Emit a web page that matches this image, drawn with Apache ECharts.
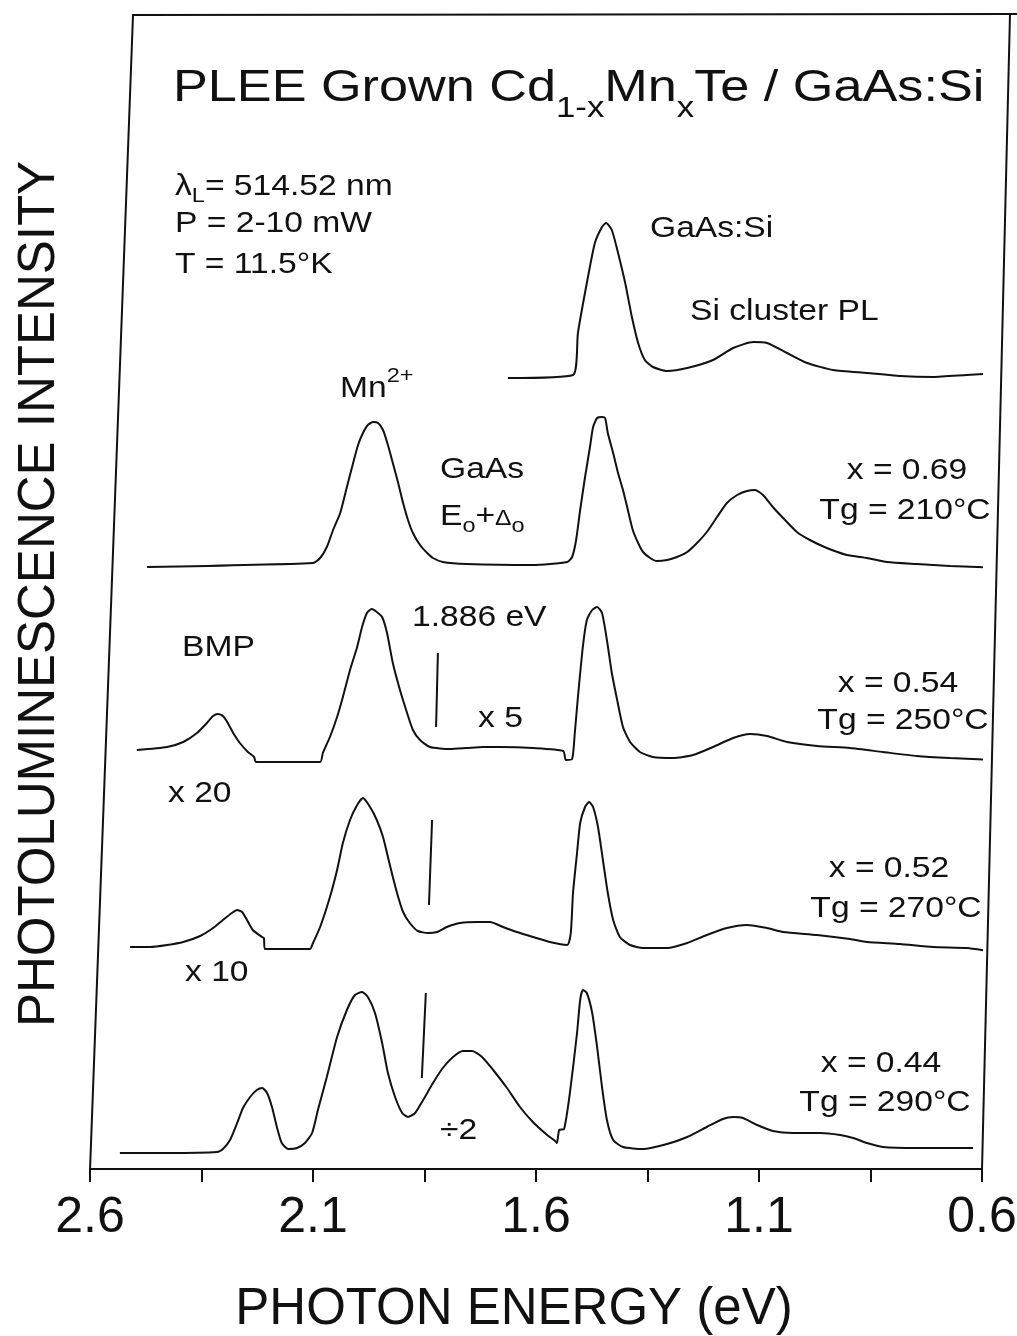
<!DOCTYPE html>
<html>
<head>
<meta charset="utf-8">
<title>PLEE Grown Cd1-xMnxTe / GaAs:Si - photoluminescence</title>
<script src="https://cdn.jsdelivr.net/npm/echarts@6/dist/echarts.min.js"></script>
<style>
  html, body { margin: 0; padding: 0; background: #fff; }
  #chart { width: 1017px; height: 1336px; }
</style>
</head>
<body>
<div id="chart"></div>
<script>
// x axis (photon energy, eV)
var tickValues = [2.6, 2.35, 2.1, 1.85, 1.6, 1.35, 1.1, 0.85, 0.6];
var labelValues = [2.6, 2.1, 1.6, 1.1, 0.6];

// GaAs:Si substrate spectrum (offset trace, arb. units)
var eSub = [1.663, 1.517, 1.506, 1.486, 1.468, 1.452, 1.443, 1.430, 1.416, 1.400, 1.385, 1.371, 1.356, 1.338,
  1.306, 1.261, 1.203, 1.158, 1.113, 1.082, 1.037, 0.992, 0.934, 0.858, 0.784, 0.710, 0.634, 0.555];
var iSub = [7.91, 7.94, 8.36, 8.86, 9.26, 9.42, 9.46, 9.39, 9.16, 8.86, 8.52, 8.26, 8.09, 8.02,
  7.98, 8.01, 8.09, 8.21, 8.27, 8.26, 8.16, 8.06, 7.99, 7.96, 7.93, 7.92, 7.94, 7.96];

// x = 0.69, Tg = 210 C
var e069 = [2.472, 2.100, 2.084, 2.069, 2.055, 2.039, 2.024, 2.010, 1.999, 1.988, 1.977, 1.965, 1.954, 1.943,
  1.932, 1.921, 1.909, 1.898, 1.887, 1.876, 1.860, 1.844, 1.831, 1.809, 1.755, 1.607, 1.530, 1.519, 1.510,
  1.501, 1.490, 1.479, 1.472, 1.463, 1.452, 1.445, 1.439, 1.427, 1.416, 1.405, 1.394, 1.383, 1.371, 1.360,
  1.344, 1.329, 1.306, 1.284, 1.261, 1.239, 1.217, 1.194, 1.172, 1.149, 1.127, 1.109, 1.091, 1.069, 1.046,
  1.015, 0.986, 0.948, 0.903, 0.858, 0.813, 0.746, 0.672, 0.611, 0.553];
var i069 = [6.02, 6.06, 6.11, 6.22, 6.39, 6.56, 6.82, 7.06, 7.24, 7.36, 7.44, 7.47, 7.46, 7.39,
  7.24, 7.06, 6.86, 6.66, 6.49, 6.36, 6.24, 6.16, 6.11, 6.07, 6.05, 6.04, 6.07, 6.12, 6.29,
  6.59, 6.92, 7.22, 7.42, 7.51, 7.52, 7.51, 7.36, 7.16, 6.96, 6.79, 6.59, 6.39, 6.26, 6.17,
  6.11, 6.08, 6.09, 6.12, 6.17, 6.26, 6.37, 6.52, 6.66, 6.74, 6.78, 6.79, 6.74, 6.62, 6.51,
  6.37, 6.29, 6.21, 6.14, 6.11, 6.07, 6.05, 6.03, 6.02, 6.01];

// x = 0.54, Tg = 250 C
var e054 = [2.495, 2.427, 2.391, 2.360, 2.338, 2.324, 2.313, 2.302, 2.291, 2.279, 2.264, 2.246, 2.232, 2.228,
  2.084, 2.078, 2.062, 2.046, 2.033, 2.017, 2.001, 1.990, 1.979, 1.968, 1.957, 1.945, 1.934, 1.921, 1.905,
  1.889, 1.876, 1.860, 1.838, 1.793, 1.755, 1.719, 1.681, 1.607, 1.539, 1.533, 1.519, 1.513, 1.506, 1.495,
  1.486, 1.474, 1.463, 1.452, 1.441, 1.430, 1.418, 1.405, 1.389, 1.367, 1.338, 1.293, 1.248, 1.203, 1.158,
  1.120, 1.082, 1.037, 0.970, 0.896, 0.822, 0.746, 0.672, 0.566];
var i054 = [4.19, 4.22, 4.27, 4.36, 4.46, 4.53, 4.55, 4.53, 4.46, 4.36, 4.26, 4.17, 4.12, 4.07,
  4.07, 4.16, 4.32, 4.52, 4.72, 4.99, 5.22, 5.42, 5.56, 5.60, 5.57, 5.52, 5.36, 5.06, 4.79,
  4.56, 4.39, 4.29, 4.22, 4.20, 4.21, 4.22, 4.22, 4.21, 4.18, 4.09, 4.10, 4.36, 4.72, 5.22,
  5.49, 5.59, 5.62, 5.56, 5.29, 4.96, 4.69, 4.42, 4.27, 4.17, 4.12, 4.11, 4.14, 4.22, 4.31,
  4.35, 4.33, 4.27, 4.23, 4.21, 4.17, 4.13, 4.11, 4.09];

// x = 0.52, Tg = 270 C
var e052 = [2.510, 2.465, 2.427, 2.391, 2.353, 2.324, 2.302, 2.282, 2.270, 2.259, 2.248, 2.235, 2.214, 2.210,
  2.208, 2.107, 2.100, 2.084, 2.062, 2.046, 2.033, 2.017, 2.001, 1.988, 1.972, 1.957, 1.943, 1.932, 1.921,
  1.909, 1.898, 1.883, 1.865, 1.842, 1.822, 1.800, 1.770, 1.732, 1.703, 1.674, 1.643, 1.607, 1.569, 1.530,
  1.522, 1.517, 1.508, 1.501, 1.490, 1.481, 1.472, 1.461, 1.450, 1.439, 1.427, 1.412, 1.389, 1.360, 1.306,
  1.261, 1.217, 1.172, 1.127, 1.082, 1.046, 0.970, 0.896, 0.858, 0.784, 0.710, 0.634, 0.587];
var i052 = [2.22, 2.22, 2.24, 2.27, 2.33, 2.41, 2.49, 2.56, 2.59, 2.57, 2.49, 2.39, 2.32, 2.31,
  2.20, 2.20, 2.26, 2.42, 2.72, 2.99, 3.26, 3.49, 3.64, 3.71, 3.62, 3.49, 3.32, 3.12, 2.92,
  2.72, 2.57, 2.46, 2.38, 2.36, 2.37, 2.42, 2.46, 2.47, 2.47, 2.42, 2.37, 2.32, 2.27, 2.24,
  2.36, 2.76, 3.16, 3.46, 3.62, 3.67, 3.62, 3.42, 3.09, 2.76, 2.49, 2.32, 2.24, 2.21, 2.21,
  2.26, 2.34, 2.41, 2.44, 2.41, 2.37, 2.34, 2.30, 2.27, 2.25, 2.22, 2.21, 2.18];

// x = 0.44, Tg = 290 C
var e044 = [2.533, 2.427, 2.315, 2.302, 2.286, 2.270, 2.257, 2.241, 2.226, 2.214, 2.203, 2.192, 2.181, 2.170,
  2.156, 2.136, 2.118, 2.102, 2.089, 2.069, 2.046, 2.024, 2.006, 1.990, 1.977, 1.961, 1.945, 1.932, 1.916,
  1.900, 1.887, 1.871, 1.853, 1.831, 1.809, 1.786, 1.764, 1.743, 1.721, 1.696, 1.665, 1.636, 1.607, 1.575,
  1.557, 1.553, 1.548, 1.537, 1.524, 1.508, 1.501, 1.495, 1.486, 1.474, 1.463, 1.452, 1.441, 1.427, 1.405,
  1.360, 1.306, 1.261, 1.217, 1.181, 1.158, 1.136, 1.104, 1.069, 1.024, 0.963, 0.918, 0.889, 0.858, 0.822,
  0.746, 0.620];
var i044 = [0.16, 0.16, 0.17, 0.20, 0.29, 0.46, 0.61, 0.72, 0.79, 0.81, 0.76, 0.62, 0.42, 0.26,
  0.20, 0.21, 0.26, 0.36, 0.59, 0.92, 1.32, 1.59, 1.74, 1.77, 1.72, 1.56, 1.26, 0.96, 0.72,
  0.56, 0.52, 0.56, 0.69, 0.86, 1.01, 1.12, 1.18, 1.18, 1.12, 0.99, 0.81, 0.62, 0.47, 0.34,
  0.28, 0.26, 0.39, 0.40, 0.76, 1.36, 1.69, 1.79, 1.76, 1.56, 1.22, 0.82, 0.49, 0.29, 0.22,
  0.20, 0.25, 0.32, 0.42, 0.50, 0.52, 0.51, 0.44, 0.38, 0.36, 0.36, 0.34, 0.31, 0.26, 0.22,
  0.21, 0.21];

// 1.886 eV marker bars
var markTopE = [1.820, 1.833, 1.847];
var markTopI = [5.16, 3.49, 1.76];
var markBotE = [1.824, 1.840, 1.856];
var markBotI = [4.42, 2.64, 0.91];

var FONT = '"Liberation Sans", Arial, Helvetica, sans-serif';
var INK = '#111';

function zip(e, v) {
  var out = [];
  for (var k = 0; k < e.length; k++) out.push([e[k], v[k]]);
  return out;
}

function spectrum(name, e, v) {
  return {
    name: name, type: 'line', data: zip(e, v),
    showSymbol: false, smooth: 0.2, clip: false,
    lineStyle: { color: INK, width: 2 }, silent: true, animation: false
  };
}

// rich styles for small annotations (sub / superscript)
var smallRich = {
  m: { fontSize: 30, fontFamily: FONT, lineHeight: 34, verticalAlign: 'top', padding: [8, 0, 0, 0] },
  b: { fontSize: 21, fontFamily: FONT, lineHeight: 22, verticalAlign: 'top', padding: [22, 0, 0, 0] },
  d: { fontSize: 22, fontFamily: FONT, lineHeight: 22, verticalAlign: 'top', padding: [14, 0, 0, 0] },
  p: { fontSize: 21, fontFamily: FONT, lineHeight: 22, verticalAlign: 'top' }
};

function label(x, y, text, align, rich) {
  return {
    type: 'text', x: x, y: y, scaleX: 1.12, silent: true,
    style: {
      text: text, fontSize: 30, fontFamily: FONT, fill: INK,
      textAlign: align || 'left', align: align || 'left',
      textVerticalAlign: 'middle', verticalAlign: 'middle',
      rich: rich
    }
  };
}

var markData = [];
for (var k = 0; k < markTopE.length; k++) {
  markData.push([{ coord: [markTopE[k], markTopI[k]] }, { coord: [markBotE[k], markBotI[k]] }]);
}

var series = [
  spectrum('GaAs:Si', eSub, iSub),
  spectrum('x = 0.69', e069, i069),
  spectrum('x = 0.54', e054, i054),
  spectrum('x = 0.52', e052, i052),
  spectrum('x = 0.44', e044, i044)
];
series[2].markLine = {
  silent: true, symbol: ['none', 'none'], animation: false,
  label: { show: false },
  lineStyle: { color: INK, width: 2, type: 'solid' },
  data: markData
};

var chart = echarts.init(document.getElementById('chart'), null, { renderer: 'canvas' });

var option = {
  backgroundColor: '#fff',
  animation: false,
  grid: { left: 90, right: 35, top: 19, bottom: 167, outerBoundsMode: 'none', containLabel: false },
  xAxis: {
    type: 'value', min: 0.6, max: 2.6, inverse: true,
    name: 'PHOTON ENERGY (eV)', nameLocation: 'middle', nameGap: 115,
    nameTextStyle: { fontSize: 51, fontFamily: FONT, color: INK, padding: [0, 44, 0, 0] },
    axisLine: { show: true, lineStyle: { color: INK, width: 2 } },
    axisTick: { show: true, length: 13, customValues: tickValues, lineStyle: { color: INK, width: 2 } },
    axisLabel: {
      customValues: labelValues, fontSize: 50, fontFamily: FONT, color: INK, margin: 24,
      formatter: function (v) { return v.toFixed(1); }
    },
    splitLine: { show: false }
  },
  yAxis: {
    type: 'value', min: 0, max: 11.5,
    name: 'PHOTOLUMINESCENCE INTENSITY', nameLocation: 'middle', nameGap: 25,
    nameTextStyle: { fontSize: 51, fontFamily: FONT, color: INK },
    axisLine: { show: false }, axisTick: { show: false }, axisLabel: { show: false },
    splitLine: { show: false }
  },
  series: series,
  graphic: [
    // slanted frame of the scanned plot
    { type: 'polyline', silent: true, shape: { points: [[1017, 14], [133, 15], [90, 1170]] },
      style: { stroke: INK, lineWidth: 2, fill: null } },
    { type: 'polyline', silent: true, shape: { points: [[1010, 14], [982, 1169]] },
      style: { stroke: INK, lineWidth: 2, fill: null } },
    // title
    {
      type: 'text', x: 173, y: 91, scaleX: 1.16, silent: true,
      style: {
        text: '{t|PLEE Grown Cd}{s|1-x}{t|Mn}{s|x}{t|Te / GaAs:Si}',
        fill: INK, textAlign: 'left', align: 'left', textVerticalAlign: 'middle', verticalAlign: 'middle',
        rich: {
          t: { fontSize: 45, fontFamily: FONT, lineHeight: 50, verticalAlign: 'top' },
          s: { fontSize: 30, fontFamily: FONT, lineHeight: 30, verticalAlign: 'top', padding: [28, 0, 0, 0] }
        }
      }
    },
    label(175, 181, '{m|\u03bb}{b|L}{m|= 514.52 nm}', 'left', smallRich),
    label(175, 224, 'P = 2-10 mW'),
    label(175, 265, 'T = 11.5\u00b0K'),
    label(650, 229, 'GaAs:Si'),
    label(690, 312, 'Si cluster PL'),
    label(340, 383, '{m|Mn}{p|2+}', 'left', smallRich),
    label(440, 470, 'GaAs'),
    label(440, 511, '{m|E}{b|o}{m|+}{d|\u0394}{b|o}', 'left', smallRich),
    label(412, 618, '1.886 eV'),
    label(182, 648, 'BMP'),
    label(478, 719, 'x 5'),
    label(168, 794, 'x 20'),
    label(185, 973, 'x 10'),
    label(440, 1131, '\u00f72'),
    label(907, 471, 'x = 0.69', 'center'),
    label(905, 511, 'Tg = 210\u00b0C', 'center'),
    label(898, 684, 'x = 0.54', 'center'),
    label(903, 721, 'Tg = 250\u00b0C', 'center'),
    label(889, 869, 'x = 0.52', 'center'),
    label(896, 909, 'Tg = 270\u00b0C', 'center'),
    label(881, 1064, 'x = 0.44', 'center'),
    label(885, 1103, 'Tg = 290\u00b0C', 'center')
  ]
};

chart.setOption(option);
</script>
</body>
</html>
